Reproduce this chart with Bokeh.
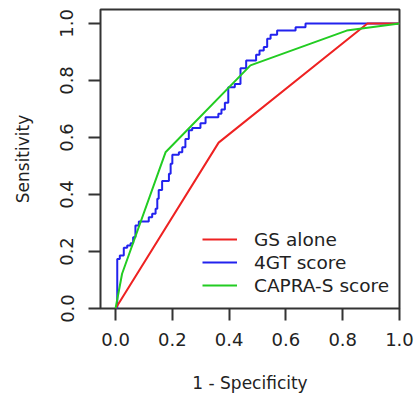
from bokeh.plotting import figure
from bokeh.models import Range1d, FixedTicker, Legend, LegendItem
from bokeh.embed import file_html
from bokeh.resources import INLINE

# ---- data ----
tick_values = [0.0, 0.2, 0.4, 0.6, 0.8, 1.0]
tick_labels = ["0.0", "0.2", "0.4", "0.6", "0.8", "1.0"]

series_names = ["GS alone", "4GT score", "CAPRA-S score"]

gs_fpr = [0.0, 0.363, 0.887, 1.0]
gs_tpr = [0.0, 0.582, 1.0, 1.0]

capra_fpr = [0.0, 0.023, 0.176, 0.475, 0.814, 1.0]
capra_tpr = [0.0, 0.122, 0.548, 0.853, 0.975, 1.0]

# 4GT: step corners (x of each rise, y after the rise)
gt_fpr = [0.0, 0.006, 0.015, 0.029, 0.041, 0.053, 0.062, 0.070, 0.082, 0.117,
          0.129, 0.141, 0.147, 0.152, 0.164, 0.188, 0.194, 0.200, 0.223, 0.235,
          0.246, 0.258, 0.270, 0.299, 0.317, 0.362, 0.373, 0.385, 0.397, 0.420,
          0.440, 0.460, 0.495, 0.507, 0.522, 0.534, 0.546, 0.569, 0.634, 0.669, 1.0]
gt_tpr = [0.0, 0.174, 0.186, 0.213, 0.221, 0.229, 0.250, 0.291, 0.305, 0.320,
          0.332, 0.350, 0.385, 0.416, 0.447, 0.473, 0.508, 0.539, 0.548, 0.566,
          0.595, 0.625, 0.633, 0.650, 0.671, 0.683, 0.698, 0.722, 0.776, 0.788,
          0.843, 0.870, 0.890, 0.905, 0.917, 0.946, 0.960, 0.975, 0.987, 1.0, 1.0]

# expand step corners into a horizontal-then-vertical path
gt_x, gt_y = [gt_fpr[0]], [gt_tpr[0]]
for i in range(1, len(gt_fpr)):
    gt_x += [gt_fpr[i], gt_fpr[i]]
    gt_y += [gt_tpr[i - 1], gt_tpr[i]]

RED, BLUE, GREEN = "#ee2222", "#2222ee", "#22cc22"
FONT = "DejaVu Sans"
AX = "#333333"

p = figure(frame_width=299, frame_height=299,
           min_border_left=100, min_border_right=15,
           min_border_top=9, min_border_bottom=92,
           x_range=Range1d(-0.053, 1.0), y_range=Range1d(0.0, 1.049),
           output_backend="svg", toolbar_location=None,
           background_fill_color="white", border_fill_color="white")

p.outline_line_color = AX
p.outline_line_width = 2
p.xgrid.visible = False
p.ygrid.visible = False

for ax in (p.xaxis[0], p.yaxis[0]):
    ax.ticker = FixedTicker(ticks=tick_values)
    ax.major_label_overrides = {v: s for v, s in zip(tick_values, tick_labels)}
    ax.axis_line_color = None
    ax.major_tick_in = 0
    ax.major_tick_out = 12
    ax.major_tick_line_color = AX
    ax.major_tick_line_width = 2
    ax.minor_tick_line_color = None
    ax.major_label_text_font = FONT
    ax.major_label_text_font_size = "18px"
    ax.major_label_text_color = "#222222"
    ax.axis_label_text_font = FONT
    ax.axis_label_text_font_size = "17px"
    ax.axis_label_text_font_style = "normal"
    ax.axis_label_text_color = "#222222"

p.xaxis.axis_label = "1 - Specificity"
p.yaxis.axis_label = "Sensitivity"
p.xaxis.major_label_standoff = 12
p.xaxis.axis_label_standoff = 24
p.yaxis.major_label_orientation = "vertical"
p.yaxis.major_label_standoff = 15
p.yaxis.axis_label_standoff = 25

r_gt = p.line(gt_x, gt_y, line_color=BLUE, line_width=2)
r_gs = p.line(gs_fpr, gs_tpr, line_color=RED, line_width=2)
r_ca = p.line(capra_fpr, capra_tpr, line_color=GREEN, line_width=2)

legend = Legend(items=[LegendItem(label=series_names[0], renderers=[r_gs]),
                       LegendItem(label=series_names[1], renderers=[r_gt]),
                       LegendItem(label=series_names[2], renderers=[r_ca])],
                location=(102, 12))
legend.border_line_color = None
legend.background_fill_alpha = 0
legend.padding = 0
legend.margin = 0
legend.spacing = 1
legend.glyph_width = 35
legend.glyph_height = 22
legend.label_height = 22
legend.label_standoff = 17
legend.label_text_font = FONT
legend.label_text_font_size = "18.5px"
legend.label_text_color = "#222222"
p.add_layout(legend, "center")

open("out.html", "w").write(file_html(p, INLINE))
